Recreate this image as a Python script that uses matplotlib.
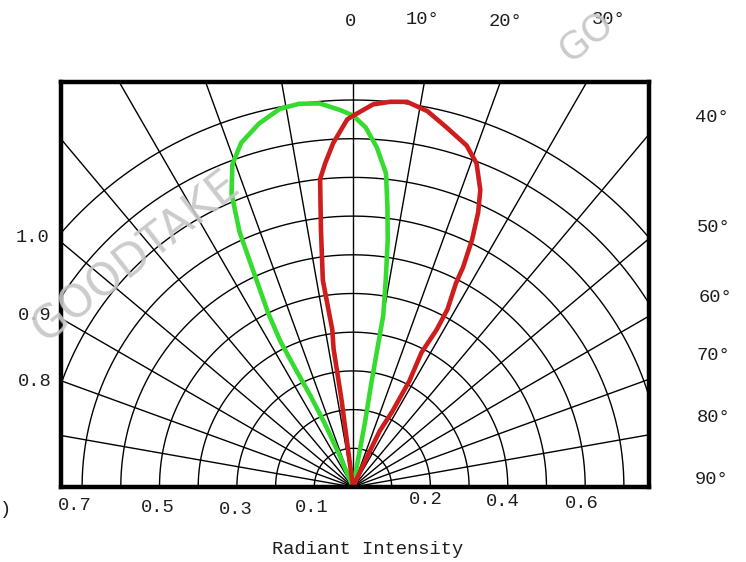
import numpy as np
import matplotlib
matplotlib.use("Agg")
import matplotlib.pyplot as plt

# ---- data (angle from vertical in degrees, relative radiant intensity) ----
green_angle = [-22, -23, -24, -25, -26, -26.5, -26, -25, -24, -22.5, -20.5, -18, -14.5,
               -11, -8, -5, -2, 0, 2, 4, 6, 7, 8, 9, 10, 10, 10, 10.5, 11]
green_r = [0, 0.09, 0.18, 0.26, 0.34, 0.42, 0.50, 0.59, 0.72, 0.82, 0.89, 0.935, 0.97,
           0.995, 1.0, 0.995, 0.975, 0.96, 0.93, 0.88, 0.815, 0.73, 0.645, 0.54, 0.45,
           0.36, 0.27, 0.17, 0]

red_angle = [-6, -7.5, -7.5, -8, -7.5, -8.3, -7.1, -6.1, -4.9, -3.3, -0.9, 0.6, 3, 5.5,
             8, 11.2, 14.6, 18.4, 20.9, 23.2, 24.5, 25.7, 26.6, 26.8, 28, 28, 27, 28,
             27.5, 25.5, 25, 25]
red_r = [0, 0.10, 0.23, 0.36, 0.41, 0.54, 0.67, 0.80, 0.84, 0.89, 0.95, 0.965, 0.99, 1.0,
         1.005, 0.99, 0.96, 0.93, 0.895, 0.835, 0.78, 0.71, 0.635, 0.59, 0.52, 0.46,
         0.39, 0.31, 0.22, 0.16, 0.085, 0]

circle_radii = [0.1, 0.2, 0.3, 0.4, 0.5, 0.6, 0.7, 0.8, 0.9, 1.0]
spoke_angles = [-80, -70, -60, -50, -40, -30, -20, -10, 0, 10, 20, 30, 40, 50, 60, 70, 80]

top_labels = ["0", "10°", "20°", "30°"]
right_labels = ["40°", "50°", "60°", "70°", "80°", "90°"]
left_labels = ["1.0", "0.9", "0.8"]
bottom_labels = ["0.7", "0.5", "0.3", "0.1", "0.2", "0.4", "0.6"]
xlabel_text = "Radiant Intensity"

W, H = 746, 562
fig = plt.figure(figsize=(W / 100, H / 100), dpi=100)
fig.patch.set_facecolor("white")

# axes frame in pixels
L, R, T, B = 61, 649, 82, 487
ox = 353          # origin x pixel
unit = 387.0      # pixels per 1.0 intensity
ax = fig.add_axes([L / W, 1 - B / H, (R - L) / W, (B - T) / H])
ax.set_xlim((L - ox) / unit, (R - ox) / unit)
ax.set_ylim(0, (B - T) / unit)
ax.set_xticks([])
ax.set_yticks([])
for s in ax.spines.values():
    s.set_linewidth(3.2)
    s.set_color("black")
    s.set_zorder(10)

# grid: circles
th = np.radians(np.linspace(-90, 90, 500))
for r in circle_radii:
    ax.plot(r * np.sin(th), r * np.cos(th), color="black", lw=1.0, zorder=1)
# grid: spokes
for a in spoke_angles:
    ar = np.radians(a)
    ax.plot([0, 2 * np.sin(ar)], [0, 2 * np.cos(ar)], color="black", lw=1.0, zorder=1)

# curves
ga = np.radians(green_angle)
gr = np.array(green_r)
ax.plot(gr * np.sin(ga), gr * np.cos(ga), color="#36db30", lw=3.3, zorder=3,
        solid_joinstyle="round", solid_capstyle="round")
ra = np.radians(red_angle)
rr = np.array(red_r)
ax.plot(rr * np.sin(ra), rr * np.cos(ra), color="#cf1c1c", lw=3.3, zorder=4,
        solid_joinstyle="round", solid_capstyle="round")

font = dict(family=["Liberation Mono", "DejaVu Sans Mono"], fontsize=13.5, color="#1e1e1e",
            ha="center", va="center")


def ptext(x, y, s, **kw):
    d = dict(font)
    d.update(kw)
    fig.text(x / W, 1 - y / H, s, **d)


top_pos = [(350, 22), (423, 19), (505, 21), (609, 20)]
for (x, y), s in zip(top_pos, top_labels):
    ptext(x, y, s)
right_pos = [(712, 118), (714, 228), (715, 298), (713, 355), (714, 418), (712, 480)]
for (x, y), s in zip(right_pos, right_labels):
    ptext(x, y, s)
left_pos = [(33, 237), (35, 316), (35, 382)]
for (x, y), s in zip(left_pos, left_labels):
    ptext(x, y, s)
bottom_pos = [(75, 505), (158, 508), (236, 510), (312, 507), (426, 500), (503, 502), (582, 503)]
for (x, y), s in zip(bottom_pos, bottom_labels):
    ptext(x, y, s)
ptext(6, 510, ")")
ptext(368, 549, xlabel_text)

# watermark
wm = dict(family="DejaVu Sans", fontsize=32, color="#c6c6c6", ha="center", va="center",
          rotation=38, alpha=0.9, zorder=20)
fig.text(136 / W, 1 - 257 / H, "GOODTAKE", **wm)
wm2 = dict(wm)
wm2["fontsize"] = 27
fig.text(588 / W, 1 - 38 / H, "GO", **wm2)

fig.savefig("out.png", dpi=100, facecolor="white")
